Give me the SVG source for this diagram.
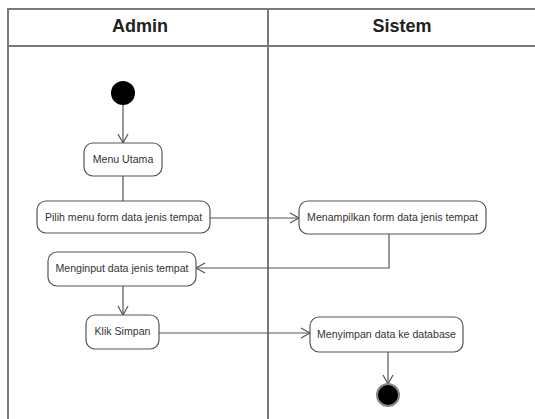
<svg xmlns="http://www.w3.org/2000/svg" width="535" height="419" viewBox="0 0 535 419">
  <style>
    .lane { fill: none; stroke: #7a7a7a; stroke-width: 2; }
    .head { font-family: "Liberation Sans", Arial, sans-serif; font-size: 18px; font-weight: bold; fill: #222; text-anchor: middle; }
    .act rect { fill: #fff; stroke: #555; stroke-width: 1.2; }
    .act text { font-family: "Liberation Sans", Arial, sans-serif; font-size: 10.6px; fill: #333; text-anchor: middle; }
    .flow { fill: none; stroke: #555; stroke-width: 1.2; }
  </style>
  <defs>
    <marker id="open" markerWidth="12" markerHeight="12" refX="10" refY="6" orient="auto" markerUnits="userSpaceOnUse">
      <path d="M1,1 L10,6 L1,11" fill="none" stroke="#555" stroke-width="1.2"/>
    </marker>
  </defs>
  <rect width="535" height="419" fill="#fff"/>

  <!-- swimlanes -->
  <g id="lanes">
    <path class="lane" d="M8,430 V9 H545"/>
    <path class="lane" d="M8,46 H545"/>
    <path class="lane" d="M268,9 V430"/>
    <text class="head" x="140" y="32">Admin</text>
    <text class="head" x="402" y="32">Sistem</text>
  </g>

  <!-- connectors -->
  <g id="connectors">
    <path class="flow" d="M123,105 V143" marker-end="url(#open)"/>
    <path class="flow" d="M123,176 V201"/>
    <path class="flow" d="M210,218 H299" marker-end="url(#open)"/>
    <path class="flow" d="M389,234 V268 H196" marker-end="url(#open)"/>
    <path class="flow" d="M123,286 V315" marker-end="url(#open)"/>
    <path class="flow" d="M159,333 H310" marker-end="url(#open)"/>
    <path class="flow" d="M388,352 V384" marker-end="url(#open)"/>
  </g>

  <g id="start">
    <circle cx="123" cy="93" r="12" fill="#000"/>
  </g>

  <g id="menu-utama" class="act">
    <rect x="84" y="143" width="78" height="33" rx="9"/>
    <text x="123" y="163">Menu Utama</text>
  </g>

  <g id="pilih-menu" class="act">
    <rect x="37" y="201" width="173" height="32" rx="9"/>
    <text x="123.5" y="220.5">Pilih menu form data jenis tempat</text>
  </g>

  <g id="menampilkan-form" class="act">
    <rect x="299" y="201" width="187" height="33" rx="9"/>
    <text x="392.5" y="221">Menampilkan form data jenis tempat</text>
  </g>

  <g id="menginput-data" class="act">
    <rect x="48" y="252" width="148" height="34" rx="9"/>
    <text x="122" y="272">Menginput data jenis tempat</text>
  </g>

  <g id="klik-simpan" class="act">
    <rect x="86" y="315" width="73" height="34" rx="9"/>
    <text x="122.5" y="335">Klik Simpan</text>
  </g>

  <g id="menyimpan-data" class="act">
    <rect x="310" y="317" width="153" height="35" rx="9"/>
    <text x="386.5" y="337.5">Menyimpan data ke database</text>
  </g>

  <g id="end">
    <circle cx="388" cy="395" r="11" fill="#000" stroke="#888" stroke-width="2"/>
  </g>
</svg>
